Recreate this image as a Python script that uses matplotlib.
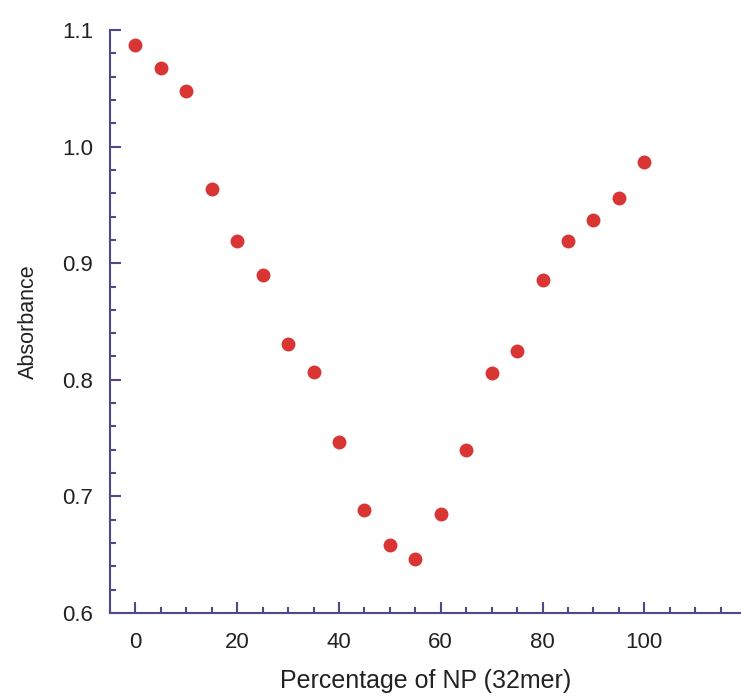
import matplotlib
matplotlib.use("Agg")
import matplotlib.pyplot as plt
from matplotlib.ticker import MultipleLocator

percent_np = [0, 5, 10, 15, 20, 25, 30, 35, 40, 45, 50, 55, 60, 65, 70, 75, 80, 85, 90, 95, 100]
absorbance = [1.087, 1.067, 1.048, 0.964, 0.919, 0.890, 0.831, 0.807, 0.747, 0.688, 0.658,
              0.646, 0.685, 0.740, 0.806, 0.825, 0.886, 0.919, 0.937, 0.956, 0.987]

plt.rcParams['font.family'] = ['Liberation Sans', 'DejaVu Sans']
axis_col = '#4b4a8c'

fig = plt.figure(figsize=(7.41, 6.97), dpi=100)
ax = fig.add_axes([0.1484, 0.1205, 0.8516, 0.8365])
ax.plot(percent_np, absorbance, 'o', color='#d93535', markersize=10, markeredgewidth=0)

ax.set_xlim(-5, 119)
ax.set_ylim(0.6, 1.1)
ax.xaxis.set_major_locator(MultipleLocator(20))
ax.xaxis.set_minor_locator(MultipleLocator(5))
ax.yaxis.set_major_locator(MultipleLocator(0.1))
ax.yaxis.set_minor_locator(MultipleLocator(0.02))
ax.set_xticks([0, 20, 40, 60, 80, 100])
ax.set_xticklabels(['0', '20', '40', '60', '80', '100'])

for s in ['top', 'right']:
    ax.spines[s].set_visible(False)
for s in ['left', 'bottom']:
    ax.spines[s].set_color(axis_col)
    ax.spines[s].set_linewidth(1.5)

ax.tick_params(which='both', direction='in', color=axis_col, width=1.5, labelsize=16, labelcolor='#222222')
ax.tick_params(axis='x', which='major', length=8, pad=14)
ax.tick_params(axis='y', which='major', length=8, pad=12)
ax.tick_params(which='minor', length=4)

ax.set_xlabel('Percentage of NP (32mer)', fontsize=18, color='#222222', labelpad=11)
ax.set_ylabel('Absorbance', fontsize=15.5, color='#222222', labelpad=17)

fig.savefig('out.png', dpi=100)
